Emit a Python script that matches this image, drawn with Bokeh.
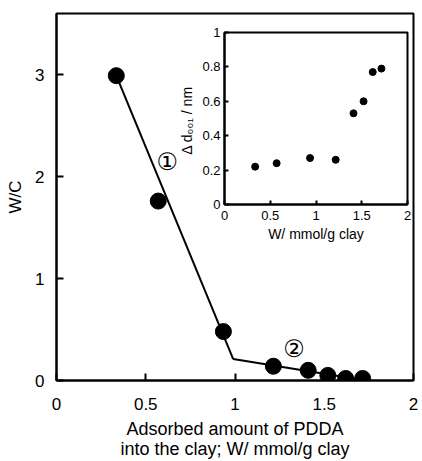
from bokeh.plotting import figure
from bokeh.models import FixedTicker, ColumnDataSource
from bokeh.layouts import column
from bokeh.core.properties import value
from bokeh.embed import file_html
from bokeh.resources import INLINE

# ---- data ----
w_amount = [0.335, 0.57, 0.935, 1.215, 1.41, 1.52, 1.62, 1.715]
wc_ratio = [2.99, 1.76, 0.48, 0.14, 0.10, 0.05, 0.02, 0.02]
fit1_x = [0.335, 0.99]
fit1_y = [2.99, 0.21]
fit2_x = [0.99, 1.715]
fit2_y = [0.21, 0.005]
delta_d = [0.22, 0.24, 0.27, 0.26, 0.53, 0.60, 0.77, 0.79]

main_xticks = [0, 0.5, 1, 1.5, 2]
main_xlabels = ["0", "0.5", "1", "1.5", "2"]
main_yticks = [0, 1, 2, 3]
main_ylabels = ["0", "1", "2", "3"]
inset_xticks = [0, 0.5, 1, 1.5, 2]
inset_xlabels = ["0", "0.5", "1", "1.5", "2"]
inset_yticks = [0, 0.2, 0.4, 0.6, 0.8, 1]
inset_ylabels = ["0", "0.2", "0.4", "0.6", "0.8", "1"]

region_labels = ["\u2460", "\u2461"]
region_x = [0.62, 1.33]
region_y = [2.14, 0.31]

FONT = "Liberation Sans"


def style_axes(fig, xt, xl, yt, yl, tick_in, size, lsize):
    fig.xaxis.ticker = FixedTicker(ticks=xt)
    fig.yaxis.ticker = FixedTicker(ticks=yt)
    fig.xaxis.major_label_overrides = {t: l for t, l in zip(xt, xl)}
    fig.yaxis.major_label_overrides = {t: l for t, l in zip(yt, yl)}
    for ax in (fig.xaxis, fig.yaxis):
        ax.major_tick_in = tick_in
        ax.major_tick_out = 0
        ax.minor_tick_line_color = None
        ax.axis_line_width = 2
        ax.major_tick_line_width = 2
        ax.major_label_text_font = FONT
        ax.major_label_text_font_size = size
        ax.major_label_text_color = "black"
        ax.axis_label_text_font = FONT
        ax.axis_label_text_font_size = lsize
        ax.axis_label_text_font_style = "normal"
        ax.axis_label_text_color = "black"
        ax.axis_label_text_line_height = 1.0
    fig.grid.visible = False
    fig.outline_line_color = "black"
    fig.outline_line_width = 2
    fig.outline_line_alpha = 1


# ---- main figure ----
p = figure(width=418, height=461, x_range=(0, 2), y_range=(0, 3.6),
           output_backend="svg", toolbar_location=None,
           min_border_left=55, min_border_right=3, min_border_top=13,
           min_border_bottom=78)
style_axes(p, main_xticks, main_xlabels, main_yticks, main_ylabels, 7,
           "17px", "17px")
p.xaxis.axis_label = "Adsorbed amount of PDDA\ninto the clay; W/ mmol/g clay"
p.xaxis.axis_label_text_font_size = "18px"
p.yaxis.axis_label = "W/C"
p.xaxis.major_label_standoff = 17
p.yaxis.major_label_standoff = 12
p.xaxis.axis_label_standoff = 6
p.yaxis.axis_label_standoff = 7

p.line(fit1_x, fit1_y, line_color="black", line_width=2)
p.line(fit2_x, fit2_y, line_color="black", line_width=2)
p.scatter(w_amount, wc_ratio, size=16, fill_color="black", line_color="black")
src_lab = ColumnDataSource(dict(x=region_x, y=region_y, t=region_labels))
p.text(x="x", y="y", text="t", source=src_lab, text_align="center",
       text_baseline="middle", text_font=value("DejaVu Sans"),
       text_font_size="24px", text_color="black")

# ---- inset figure ----
q = figure(width=244, height=225, x_range=(0, 2), y_range=(0, 1),
           output_backend="svg", toolbar_location=None,
           min_border_left=56, min_border_right=5, min_border_top=8,
           min_border_bottom=45)
style_axes(q, inset_xticks, inset_xlabels, inset_yticks, inset_ylabels, 4,
           "13px", "14px")
q.xaxis.axis_label = "W/ mmol/g clay"
q.yaxis.axis_label = "\u0394 d\u2080\u2080\u2081  / nm"
q.xaxis.major_label_standoff = 6
q.yaxis.major_label_standoff = 4
q.xaxis.axis_label_standoff = 3
q.yaxis.axis_label_standoff = 4
q.background_fill_alpha = 0
q.border_fill_alpha = 0
q.scatter(w_amount, delta_d, size=7, fill_color="black", line_color="black")
q.margin = (24 - 461, 0, 0, 168)

layout = column(p, q)
open("out.html", "w").write(file_html(layout, INLINE))
